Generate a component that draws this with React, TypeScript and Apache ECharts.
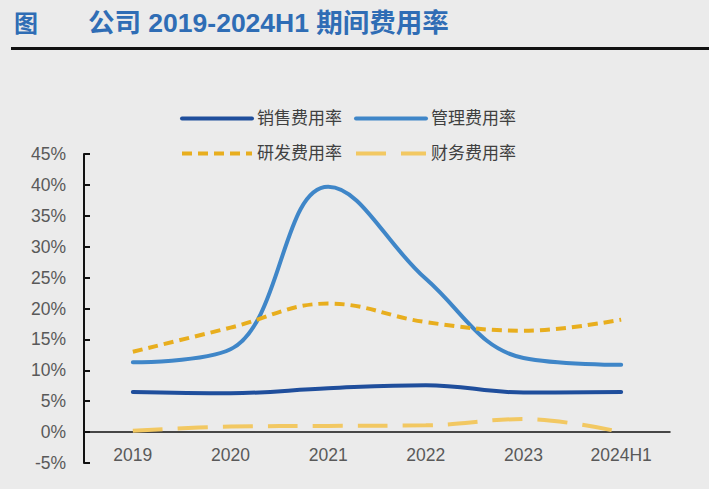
import React, { useEffect, useRef } from "react";
import * as echarts from "echarts";

const categories = ["2019", "2020", "2021", "2022", "2023", "2024H1"];
const sellingRate = [6.5, 6.3, 7.1, 7.6, 6.4, 6.5];
const adminRate = [11.3, 13.4, 39.7, 24.8, 12.0, 10.9];
const rdRate = [13.0, 16.9, 20.8, 17.8, 16.4, 18.2];
const financeRate = [0.2, 0.9, 1.0, 1.1, 2.1, 0.0];
const seriesNames = ["销售费用率", "管理费用率", "研发费用率", "财务费用率"];

const CJK = "'Liberation Sans', 'Noto Sans CJK SC', sans-serif";
const SMOOTH = 0.4;

export default function App() {
  const ref = useRef<HTMLDivElement>(null);
  useEffect(() => {
    if (!ref.current) return;
    const chart = echarts.init(ref.current, null, { renderer: "svg" });
    const legendBase = {
      left: 180,
      padding: 0,
      itemWidth: 70,
      itemHeight: 14,
      itemGap: 12,
      itemStyle: { opacity: 0 },
      lineStyle: { width: 4 },
      textStyle: { fontSize: 17, color: "#404040", fontFamily: CJK },
    };
    chart.setOption({
      animation: false,
      backgroundColor: "#ebebeb",
      graphic: [
        {
          type: "text",
          left: 14,
          top: 11,
          style: { text: "图", fill: "#2f6db5", font: `bold 24px ${CJK}` },
        },
        {
          type: "text",
          left: 88,
          top: 10,
          style: { text: "公司 2019-2024H1 期间费用率", fill: "#2f6db5", font: `bold 26.5px ${CJK}` },
        },
        {
          type: "rect",
          shape: { x: 11, y: 47, width: 698, height: 3 },
          style: { fill: "#111111" },
        },
      ],
      legend: [
        { ...legendBase, data: [seriesNames[0], seriesNames[1]], top: 110 },
        { ...legendBase, data: [seriesNames[2], seriesNames[3]], top: 145 },
      ],
      grid: { left: 84, right: 39, top: 154, bottom: 26, containLabel: false, outerBoundsMode: "none" },
      xAxis: {
        type: "category",
        data: categories,
        boundaryGap: true,
        axisLine: { onZero: true, lineStyle: { color: "#111111", width: 1.5 } },
        axisTick: { inside: true, length: 6, lineStyle: { color: "#111111", width: 1.5 } },
        axisLabel: { fontSize: 17.5, color: "#595959", margin: -17, fontFamily: "'Liberation Sans', Arial, sans-serif" },
      },
      yAxis: {
        type: "value",
        min: -5,
        max: 45,
        interval: 5,
        splitLine: { show: false },
        axisLine: { show: true, lineStyle: { color: "#111111", width: 2 } },
        axisTick: { show: true, inside: true, length: 6, lineStyle: { color: "#111111", width: 2 } },
        axisLabel: {
          formatter: "{value}%",
          fontSize: 17.5,
          color: "#595959",
          margin: 18,
          fontFamily: "'Liberation Sans', Arial, sans-serif",
        },
      },
      series: [
        {
          name: seriesNames[0],
          type: "line",
          data: sellingRate,
          smooth: SMOOTH,
          symbol: "none",
          color: "#1f4e9c",
          lineStyle: { width: 4, color: "#1f4e9c", cap: "round" },
        },
        {
          name: seriesNames[1],
          type: "line",
          data: adminRate,
          smooth: SMOOTH,
          symbol: "none",
          color: "#3f86c8",
          lineStyle: { width: 4, color: "#3f86c8", cap: "round" },
        },
        {
          name: seriesNames[2],
          type: "line",
          data: rdRate,
          smooth: SMOOTH,
          symbol: "none",
          color: "#e8ae1e",
          lineStyle: { width: 4, color: "#e8ae1e", type: [10, 6] },
        },
        {
          name: seriesNames[3],
          type: "line",
          data: financeRate,
          smooth: SMOOTH,
          symbol: "none",
          color: "#f2c862",
          lineStyle: { width: 4, color: "#f2c862", type: [30, 15] },
        },
      ],
    });
    return () => chart.dispose();
  }, []);
  return <div ref={ref} style={{ width: 709, height: 489, position: "absolute", left: 0, top: 0 }} />;
}
